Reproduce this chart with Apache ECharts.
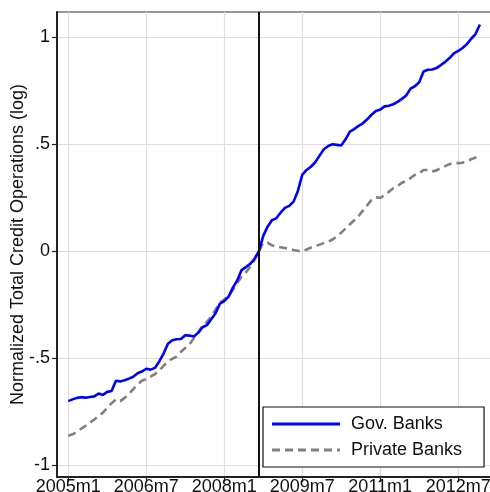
<!DOCTYPE html>
<html>
<head>
<meta charset="utf-8">
<script src="https://cdn.jsdelivr.net/npm/echarts@6/dist/echarts.min.js"></script>
<style>
  html, body { margin: 0; padding: 0; background: #fff; }
  #chart { width: 490px; height: 492px; }
</style>
</head>
<body>
<div id="chart"></div>
<script>
// Monthly series, 2005m1 .. 2012m12 (index 0 = 2005m1), normalized to 0 at 2008m9
const govBanks = [
  -0.700, -0.692, -0.685, -0.682, -0.684, -0.681, -0.678, -0.665, -0.671, -0.657,
  -0.653, -0.605, -0.608, -0.603, -0.595, -0.586, -0.570, -0.562, -0.549, -0.553,
  -0.545, -0.515, -0.478, -0.432, -0.416, -0.411, -0.410, -0.392, -0.394, -0.398,
  -0.380, -0.355, -0.345, -0.318, -0.290, -0.245, -0.233, -0.212, -0.170, -0.136,
  -0.088, -0.074, -0.059, -0.035,  0.000,  0.072,  0.115,  0.145,  0.154,  0.180,
   0.203,  0.212,  0.232,  0.282,  0.357,  0.380,  0.395,  0.416,  0.447,  0.477,
   0.492,  0.500,  0.497,  0.494,  0.523,  0.559,  0.571,  0.586,  0.598,  0.617,
   0.638,  0.655,  0.662,  0.677,  0.680,  0.687,  0.698,  0.712,  0.728,  0.760,
   0.771,  0.790,  0.840,  0.848,  0.849,  0.856,  0.870,  0.885,  0.903,  0.925,
   0.936,  0.950,  0.968,  0.993,  1.015,  1.060
];
const privateBanks = [
  -0.862, -0.855, -0.843, -0.829, -0.816, -0.801, -0.786, -0.770, -0.754, -0.733,
  -0.710, -0.692, -0.700, -0.685, -0.667, -0.644, -0.622, -0.605, -0.597, -0.586,
  -0.574, -0.558, -0.535, -0.515, -0.502, -0.492, -0.470, -0.452, -0.434, -0.405,
  -0.380, -0.347, -0.330, -0.306, -0.272, -0.240, -0.225, -0.210, -0.180, -0.148,
  -0.119, -0.099, -0.072, -0.040,  0.000,  0.040,  0.040,  0.028,  0.022,  0.019,
   0.015,  0.011,  0.006,  0.002,  0.000,  0.008,  0.017,  0.024,  0.031,  0.038,
   0.045,  0.055,  0.070,  0.087,  0.106,  0.126,  0.145,  0.165,  0.190,  0.215,
   0.240,  0.252,  0.250,  0.262,  0.278,  0.295,  0.305,  0.320,  0.328,  0.342,
   0.357,  0.365,  0.380,  0.380,  0.373,  0.378,  0.390,  0.398,  0.407,  0.413,
   0.412,  0.414,  0.421,  0.430,  0.438,  0.447
];

// Axis ticks (month index from 2005m1) and their labels
const xTickMonths = [0, 18, 36, 54, 72, 90];
const xTickLabels = ['2005m1', '2006m7', '2008m1', '2009m7', '2011m1', '2012m7'];
const yTickValues = [-1, -0.5, 0, 0.5, 1];
const yTickLabels = ['-1', '-.5', '0', '.5', '1'];

// Policy break: 2008m9
const breakMonth = 44;

const seriesNames = ['Gov. Banks', 'Private Banks'];
const yTitle = 'Normalized Total Credit Operations (log)';

const toPairs = arr => arr.map((v, i) => [i, v]);
const FONT = "'Liberation Sans', Arial, sans-serif";
const AXIS_COLOR = '#222';
const GRID_COLOR = '#dedede';

// Legend keys: a solid bar and a dashed bar
const solidKey = 'path://M0,0H68V3H0Z';
const dashedKey = 'path://M0,0H8V3H0Z M13,0H21V3H13Z M26,0H34V3H26Z M39,0H47V3H39Z M52,0H60V3H52Z M65,0H68V3H65Z';

const chart = echarts.init(document.getElementById('chart'), null, { renderer: 'canvas' });
chart.setOption({
  animation: false,
  backgroundColor: '#fff',
  textStyle: { fontFamily: FONT },
  grid: {
    left: 57, top: 12, right: -2, bottom: 15,
    show: true, borderColor: '#333', borderWidth: 1.2,
    containLabel: false, outerBoundsMode: 'none'
  },
  legend: {
    orient: 'vertical',
    left: 263, top: 407,
    padding: [7, 22, 7, 9],
    itemWidth: 68, itemHeight: 3, itemGap: 6,
    backgroundColor: '#fff',
    borderColor: '#111', borderWidth: 1.2, borderRadius: 0,
    textStyle: { fontSize: 18, color: '#111', fontFamily: FONT, lineHeight: 20, padding: [0, 0, 0, 6] },
    data: [
      { name: seriesNames[0], icon: solidKey },
      { name: seriesNames[1], icon: dashedKey }
    ],
    selectedMode: false
  },
  xAxis: {
    type: 'value',
    min: -2.6, max: 97.8,
    axisLine: { show: true, onZero: false, lineStyle: { color: AXIS_COLOR, width: 2 } },
    axisTick: { show: true, length: 5, lineStyle: { color: AXIS_COLOR, width: 1.2 }, customValues: xTickMonths },
    axisLabel: {
      customValues: xTickMonths,
      formatter: v => xTickLabels[xTickMonths.indexOf(v)],
      fontSize: 18, color: '#111', fontFamily: FONT, margin: 1
    },
    splitLine: { show: true, lineStyle: { color: GRID_COLOR, width: 1.2 } }
  },
  yAxis: {
    type: 'value',
    min: -1.0547, max: 1.118,
    name: yTitle,
    nameLocation: 'middle',
    nameRotate: 90,
    nameGap: 30,
    nameMoveOverlap: false,
    nameTextStyle: { fontSize: 18, color: '#111', fontFamily: FONT },
    axisLine: { show: true, onZero: false, lineStyle: { color: AXIS_COLOR, width: 2 } },
    axisTick: { show: true, length: 5, lineStyle: { color: AXIS_COLOR, width: 1.2 }, customValues: yTickValues },
    axisLabel: {
      customValues: yTickValues,
      formatter: v => yTickLabels[yTickValues.indexOf(v)],
      fontSize: 18, color: '#111', fontFamily: FONT, margin: 7
    },
    splitLine: { show: true, lineStyle: { color: GRID_COLOR, width: 1.2 } }
  },
  series: [
    {
      name: seriesNames[1],
      type: 'line',
      data: toPairs(privateBanks),
      showSymbol: false,
      symbol: 'none',
      lineStyle: { color: '#808080', width: 2.6, type: [8, 5] },
      itemStyle: { color: '#808080' },
      z: 2
    },
    {
      name: seriesNames[0],
      type: 'line',
      data: toPairs(govBanks),
      showSymbol: false,
      symbol: 'none',
      lineStyle: { color: '#0000ff', width: 2.6 },
      itemStyle: { color: '#0000ff' },
      z: 3,
      markLine: {
        silent: true,
        symbol: ['none', 'none'],
        label: { show: false },
        lineStyle: { color: '#111', width: 2, type: 'solid' },
        data: [{ xAxis: breakMonth }]
      }
    }
  ]
});
</script>
</body>
</html>
